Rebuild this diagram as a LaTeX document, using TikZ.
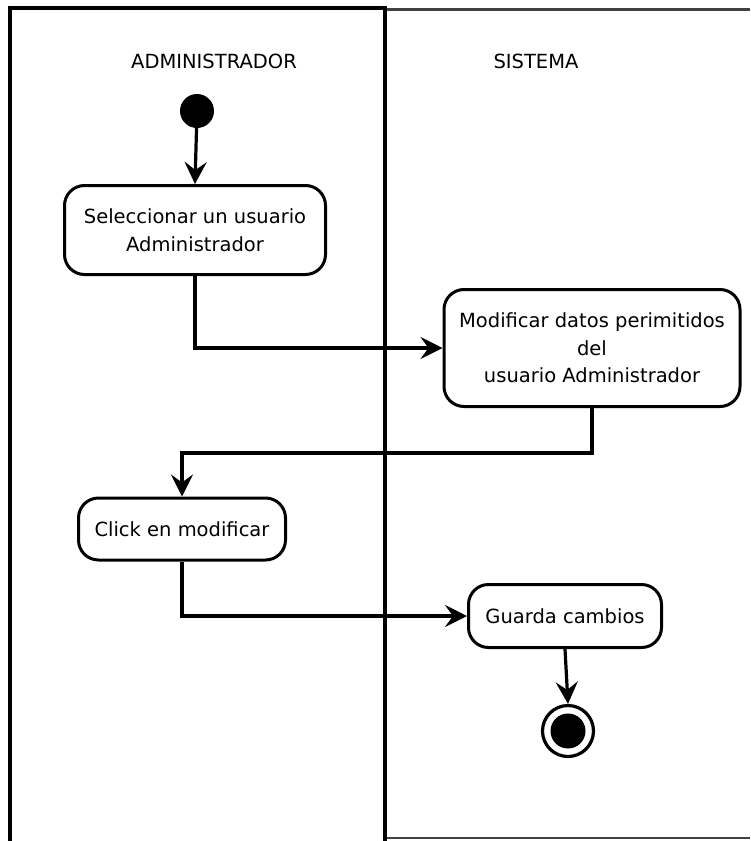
\documentclass[tikz,border=0pt]{standalone}
\usepackage{fontspec}
\setmainfont{DejaVu Sans}
\usetikzlibrary{arrows.meta}
\begin{document}
\begin{tikzpicture}[x=1pt,y=-1pt,
  every node/.style={font=\fontsize{19.5}{27.5}\selectfont},
  act/.style={draw, line width=3pt, rounded corners=20pt, fill=white,
    align=center, inner sep=0pt},
  flow/.style={line width=3.2pt, -{Stealth[length=22pt,width=22pt,inset=8pt]}},
  lane/.style={line width=3.5pt, line cap=rect},
  lanethin/.style={line width=2.2pt, draw=black!75}]
\useasboundingbox (0,0) rectangle (750,841);
\fill[white] (0,0) rectangle (750,841);

% swimlanes
\draw[lanethin] (385,9.5) -- (750,9.5);
\draw[lanethin] (385,838) -- (750,838);
\draw[lane] (10,841) -- (10,8) -- (385,8) -- (385,841);
\node (laneA) at (214,61) {ADMINISTRADOR};
\node (laneS) at (536,61) {SISTEMA};

% start / end
\node[circle, fill=black, minimum size=34pt, inner sep=0pt] (start) at (197,111) {};
\node[circle, draw, line width=3.2pt, minimum size=51pt, inner sep=0pt] (end) at (568,731) {};
\fill (end.center) circle (17.5pt);

% activities
\node[act, minimum width=261pt, minimum height=89pt] (a1) at (195,230)
  {Seleccionar un usuario\\Administrador};
\node[act, minimum width=296pt, minimum height=117pt] (a2) at (592,348)
  {Modificar datos perimitidos\\del\\usuario Administrador};
\node[act, minimum width=207pt, minimum height=62pt] (a3) at (182,529)
  {Click en modificar};
\node[act, minimum width=193pt, minimum height=63pt] (a4) at (565,616)
  {Guarda cambios};

% transitions
\draw[flow] (start) -- (a1.north);
\draw[flow] (a1.south) |- (a2.west);
\draw[flow] (a2.south) -- ++(0,45) -| (a3.north);
\draw[flow] (a3.south) |- (a4.west);
\draw[flow] (a4.south) -- (end.north);
\end{tikzpicture}
\end{document}
